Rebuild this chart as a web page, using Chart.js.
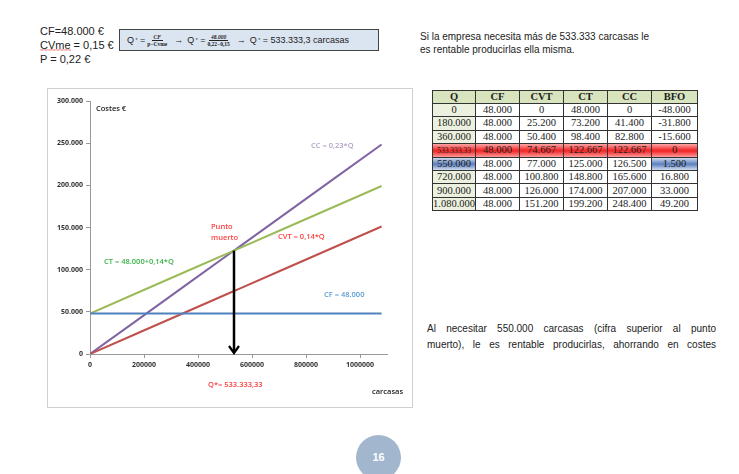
<!DOCTYPE html>
<html>
<head>
<meta charset="utf-8">
<script src="https://cdn.jsdelivr.net/npm/chart.js@4.4.1/dist/chart.umd.min.js"></script>
<style>
  body { margin:0; width:739px; height:474px; background:#fff; position:relative; overflow:hidden; font-family:Arial, "Liberation Sans", sans-serif; }
  .abs { position:absolute; }
  .given { left:40px; top:24px; font-size:11px; line-height:14px; color:#222; }
  .squig { background:url("data:image/svg+xml,%3Csvg xmlns='http://www.w3.org/2000/svg' width='4' height='2'%3E%3Cpath d='M0 1.5 L1 0.5 L2 1.5 L3 0.5 L4 1.5' stroke='%23d22' stroke-width='0.7' fill='none'/%3E%3C/svg%3E") repeat-x 0 100%; padding-bottom:0; }
  .fbox { left:119px; top:29px; width:260px; height:22px; box-sizing:border-box; background:#dbe5f1; border:1px solid #444; font-size:9px; color:#222; display:flex; align-items:center; padding-left:7px; white-space:nowrap; }
  .fbox sup { font-size:5px; margin-left:1.5px; }
  .frac { display:inline-flex; flex-direction:column; align-items:center; font-size:5.5px; font-family:"Liberation Serif", serif; font-weight:bold; line-height:6px; margin:0 3px 0 2px; }
  .frac span:first-child { border-bottom:0.7px solid #222; padding:0 2px; font-style:italic; }
  .arr { margin:0 4px; font-size:9px; }
  .note1 { left:420px; top:30px; font-size:10px; line-height:13px; color:#222; }
  .note2 { left:427px; top:321px; width:289px; font-size:10px; line-height:16px; color:#222; }
  .note2 div { text-align:justify; text-align-last:justify; }
  .chartbox { left:47px; top:88px; width:366px; height:320px; box-sizing:border-box; border:1px solid #d0d0d0; }
  table { position:absolute; left:432px; top:90px; border-collapse:collapse; font-family:"Liberation Serif", "Times New Roman", serif; font-size:10.5px; color:#222; }
  td, th { border:1px solid #333; height:12.3px; padding:0; text-align:center; line-height:12px; }
  th { background:#d7e4bd; font-weight:bold; height:11px; }
  td.q { background:#ebf1de; }
  tr.pm td { background:linear-gradient(#ffb0b0, #f02020 55%, #ff9090); }
  td.blue { background:linear-gradient(#d8e2f0, #5a7fbf 55%, #c8d6ec); }
  .page { left:356px; top:435px; width:45px; height:45px; border-radius:50%; background:#a2b6ce; color:#fff; font-weight:bold; font-size:11px; text-align:center; line-height:45px; }
</style>
</head>
<body>
<div class="abs given">CF=48.000 €<br><span class="squig">CVme</span> = 0,15 €<br>P = 0,22 €</div>
<div class="abs fbox">Q<sup>*</sup>&nbsp;=<span class="frac"><span>CF</span><span>p−Cvme</span></span><span class="arr">→</span>Q<sup>*</sup>&nbsp;=<span class="frac"><span>48.000</span><span>0,22−0,15</span></span><span class="arr">→</span>Q<sup>*</sup>&nbsp;= 533.333,3 carcasas</div>
<div class="abs note1">Si la empresa necesita más de 533.333 carcasas le<br>es rentable producirlas ella misma.</div>
<div class="abs chartbox"><canvas id="chart" width="364" height="318"></canvas></div>
<table id="tbl"></table>
<div class="abs note2"><div>Al necesitar 550.000 carcasas (cifra superior al punto</div><div>muerto), le es rentable producirlas, ahorrando en costes</div></div>
<div class="abs page">16</div>
<script>
// table / series data
const qValues = [0, 180000, 360000, 533333.33, 550000, 720000, 900000, 1080000];
const cfValues = [48000, 48000, 48000, 48000, 48000, 48000, 48000, 48000];
const cvtValues = [0, 25200, 50400, 74667, 77000, 100800, 126000, 151200];
const ctValues = [48000, 73200, 98400, 122667, 125000, 148800, 174000, 199200];
const ccValues = [0, 41400, 82800, 122667, 126500, 165600, 207000, 248400];
const bfoValues = [-48000, -31800, -15600, 0, 1500, 16800, 33000, 49200];
const headers = ['Q', 'CF', 'CVT', 'CT', 'CC', 'BFO'];
const xTicks = [0, 200000, 400000, 600000, 800000, 1000000];
const yTicks = [0, 50000, 100000, 150000, 200000, 250000, 300000];
const breakEven = { q: 533333.33, cost: 122667 };

function fmt(v) {
  const neg = v < 0;
  let s = Math.round(Math.abs(v)).toString().replace(/\B(?=(\d{3})+(?!\d))/g, '.');
  return (neg ? '-' : '') + s;
}

// Build the table
const tbl = document.getElementById('tbl');
const widths = [43, 44, 44, 44, 44, 46];
let html = '<tr>' + headers.map((h, i) => `<th style="width:${widths[i] - 1}px">${h}</th>`).join('') + '</tr>';
qValues.forEach((q, i) => {
  const isPm = i === 3, isBlue = i === 4;
  const qTxt = isPm ? '<span style="font-size:7.5px">533.333,33</span>' : fmt(q);
  html += `<tr class="${isPm ? 'pm' : ''}">` +
    `<td class="q${isBlue ? ' blue' : ''}">${qTxt}</td>` +
    `<td>${fmt(cfValues[i])}</td><td>${fmt(cvtValues[i])}</td><td>${fmt(ctValues[i])}</td>` +
    `<td>${fmt(ccValues[i])}</td><td class="${isBlue ? 'blue' : ''}">${fmt(bfoValues[i])}</td></tr>`;
});
tbl.innerHTML = html;

const pts = arr => qValues.map((q, i) => ({ x: q, y: arr[i] }));

// arrow + text labels
const extras = {
  id: 'extras',
  afterDatasetsDraw(chart) {
    const { ctx, scales: { x, y } } = chart;
    const px = x.getPixelForValue(breakEven.q);
    const top = y.getPixelForValue(breakEven.cost);
    const bot = y.getPixelForValue(0);
    ctx.save();
    ctx.strokeStyle = '#000'; ctx.lineWidth = 2.5;
    ctx.beginPath(); ctx.moveTo(px, top); ctx.lineTo(px, bot - 2); ctx.stroke();
    ctx.lineWidth = 2.2;
    ctx.beginPath(); ctx.moveTo(px - 5, bot - 8); ctx.lineTo(px, bot - 1); ctx.lineTo(px + 5, bot - 8); ctx.stroke();

    const labels = [
      ['Costes €', 48, 20, '#222'],
      ['CC = 0,23*Q', 263, 57, '#b3a2c7'],
      ['Punto', 163, 138, '#ff4040'],
      ['muerto', 163, 149, '#ff4040'],
      ['CVT = 0,14*Q', 230, 148, '#ff4040'],
      ['CT = 48.000+0,14*Q', 56, 173, '#3cb44a'],
      ['CF = 48.000', 276, 206, '#5b9bd5'],
      ['Q*= 533.333,33', 160, 296, '#ff4040'],
      ['carcasas', 324, 303, '#222']
    ];
    ctx.font = '600 7.5px "Open Sans", Arial, sans-serif';
    ctx.textBaseline = 'middle';
    labels.forEach(([t, lx, ly, c]) => { ctx.fillStyle = c; ctx.fillText(t, lx, ly); });
    ctx.restore();
  }
};

const tickFont = { size: 7, family: '"Open Sans", Arial, sans-serif', weight: 'bold' };

new Chart(document.getElementById('chart'), {
  type: 'line',
  data: {
    datasets: [
      { label: 'CF', data: pts(cfValues), borderColor: '#4f81bd' },
      { label: 'CVT', data: pts(cvtValues), borderColor: '#c0504d' },
      { label: 'CT', data: pts(ctValues), borderColor: '#9bbb59' },
      { label: 'CC', data: pts(ccValues), borderColor: '#8064a2' }
    ]
  },
  options: {
    responsive: false,
    animation: false,
    layout: { padding: { top: 12, right: 25, left: 0, bottom: 0 } },
    elements: { point: { radius: 0 }, line: { borderWidth: 2, tension: 0 } },
    plugins: { legend: { display: false }, tooltip: { enabled: false } },
    scales: {
      x: {
        type: 'linear', min: 0, max: 1100000,
        afterBuildTicks: s => { s.ticks = xTicks.map(v => ({ value: v })); },
        afterFit: s => { s.height = 53; },
        ticks: { color: '#333', font: tickFont, padding: 3, maxRotation: 0, autoSkip: false, callback: v => String(v) },
        grid: { drawOnChartArea: false, tickLength: 4, color: '#999' },
        border: { color: '#999' }
      },
      y: {
        min: 0, max: 300000,
        afterBuildTicks: s => { s.ticks = yTicks.map(v => ({ value: v })); },
        afterFit: s => { s.width = 42; },
        ticks: { color: '#333', font: tickFont, padding: 3, autoSkip: false, callback: v => fmt(v) },
        grid: { drawOnChartArea: false, tickLength: 4, color: '#999' },
        border: { color: '#999' }
      }
    }
  },
  plugins: [extras]
});
</script>
</body>
</html>
